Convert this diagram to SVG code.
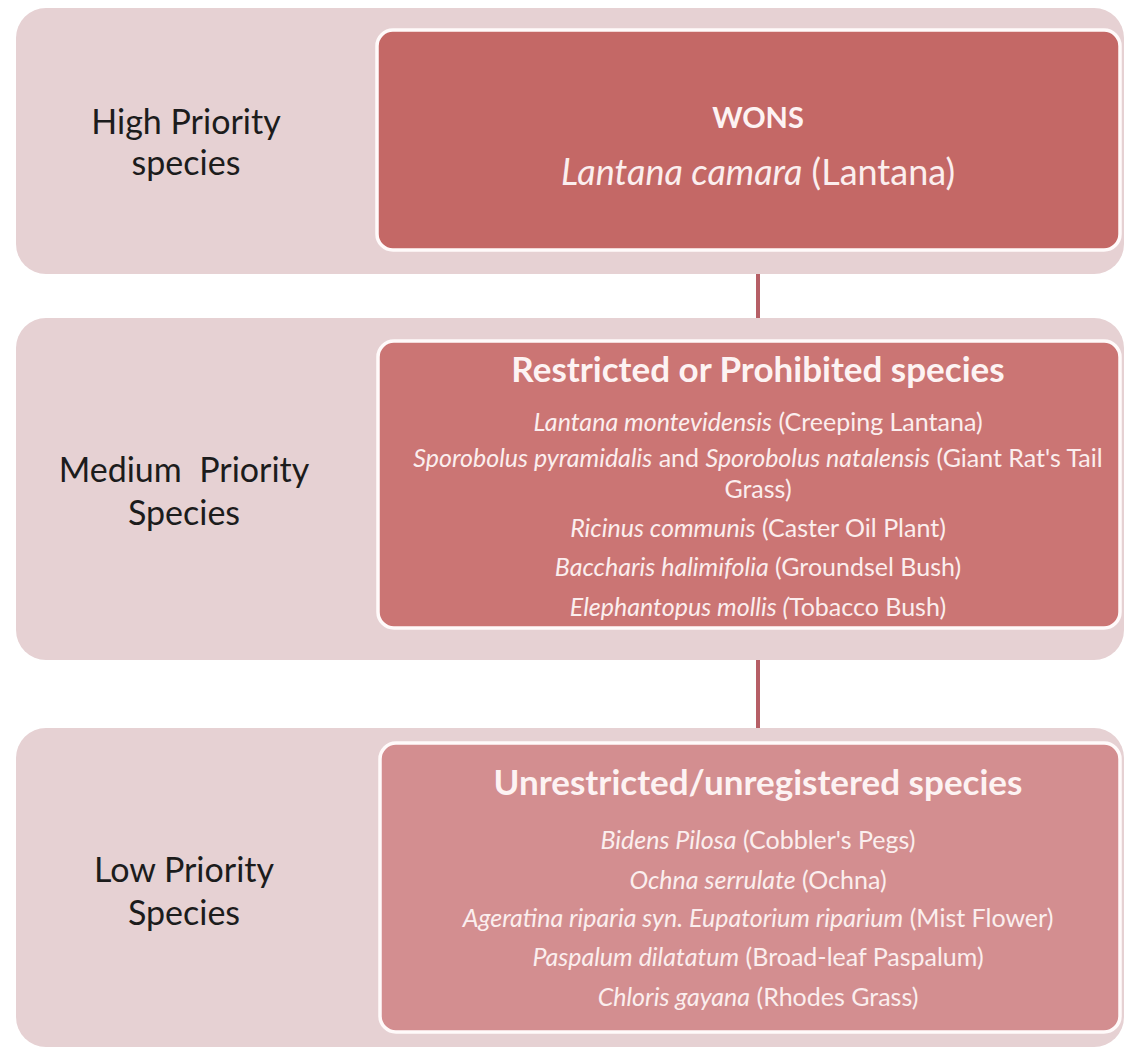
<svg xmlns="http://www.w3.org/2000/svg" width="1124" height="1050" viewBox="0 0 1124 1050">
<style>
.band{fill:#e6d1d3;}
.box{stroke:#fffafa;stroke-width:3.5;}
.lbl{font-family:Lato,"Liberation Sans",sans-serif;font-size:34px;fill:#1c1c1c;text-anchor:middle;}
.ttl{font-family:Lato,"Liberation Sans",sans-serif;font-weight:bold;fill:#fdf3f3;text-anchor:middle;}
.sp{font-family:Lato,"Liberation Sans",sans-serif;font-size:25px;fill:#fbeeee;text-anchor:middle;}
.big{font-size:36px;}
.i{font-style:italic;}
.conn{stroke:#b65f66;stroke-width:4;fill:none;}
</style>
<rect width="1124" height="1050" fill="#ffffff"/>
<g id="connectors">
<line class="conn" x1="758" y1="250" x2="758" y2="341"/>
<line class="conn" x1="758" y1="628" x2="758" y2="743"/>
</g>
<g id="band-high">
<rect class="band" x="16" y="8" width="1108" height="266" rx="30"/>
<text class="lbl" x="186" y="134">High Priority</text>
<text class="lbl" x="186" y="175">species</text>
</g>
<g id="band-medium">
<rect class="band" x="16" y="318" width="1108" height="342" rx="30"/>
<text class="lbl" x="184" y="482" xml:space="preserve">Medium  Priority</text>
<text class="lbl" x="184" y="525">Species</text>
</g>
<g id="band-low">
<rect class="band" x="16" y="728" width="1108" height="319" rx="30"/>
<text class="lbl" x="184" y="882">Low Priority</text>
<text class="lbl" x="184" y="925">Species</text>
</g>
<g id="box-wons">
<rect class="box" x="377" y="30" width="743" height="220" rx="16" fill="#c46866"/>
<text class="ttl" x="758" y="128" font-size="29">WONS</text>
<text class="sp big" x="758" y="185"><tspan class="i">Lantana camara</tspan> (Lantana)</text>
</g>
<g id="box-restricted">
<rect class="box" x="378" y="341" width="742" height="287" rx="16" fill="#cb7574"/>
<text class="ttl" x="758" y="382" font-size="35">Restricted or Prohibited species</text>
<text class="sp" x="758" y="431"><tspan class="i">Lantana montevidensis</tspan> (Creeping Lantana)</text>
<text class="sp" x="758" y="467"><tspan class="i">Sporobolus pyramidalis</tspan> and <tspan class="i">Sporobolus natalensis</tspan> (Giant Rat's Tail</text>
<text class="sp" x="758" y="498">Grass)</text>
<text class="sp" x="758" y="537"><tspan class="i">Ricinus communis</tspan> (Caster Oil Plant)</text>
<text class="sp" x="758" y="576"><tspan class="i">Baccharis halimifolia</tspan> (Groundsel Bush)</text>
<text class="sp" x="758" y="616"><tspan class="i">Elephantopus mollis (</tspan>Tobacco Bush)</text>
</g>
<g id="box-unrestricted">
<rect class="box" x="380" y="743" width="740" height="289" rx="16" fill="#d38e90"/>
<text class="ttl" x="758" y="795" font-size="35">Unrestricted/unregistered species</text>
<text class="sp" x="758" y="849"><tspan class="i">Bidens Pilosa</tspan> (Cobbler's Pegs)</text>
<text class="sp" x="758" y="889"><tspan class="i">Ochna serrulate</tspan> (Ochna)</text>
<text class="sp" x="758" y="927"><tspan class="i">Ageratina riparia syn. Eupatorium riparium</tspan> (Mist Flower)</text>
<text class="sp" x="758" y="966"><tspan class="i">Paspalum dilatatum</tspan> (Broad-leaf Paspalum)</text>
<text class="sp" x="758" y="1006"><tspan class="i">Chloris gayana</tspan> (Rhodes Grass)</text>
</g>
</svg>
